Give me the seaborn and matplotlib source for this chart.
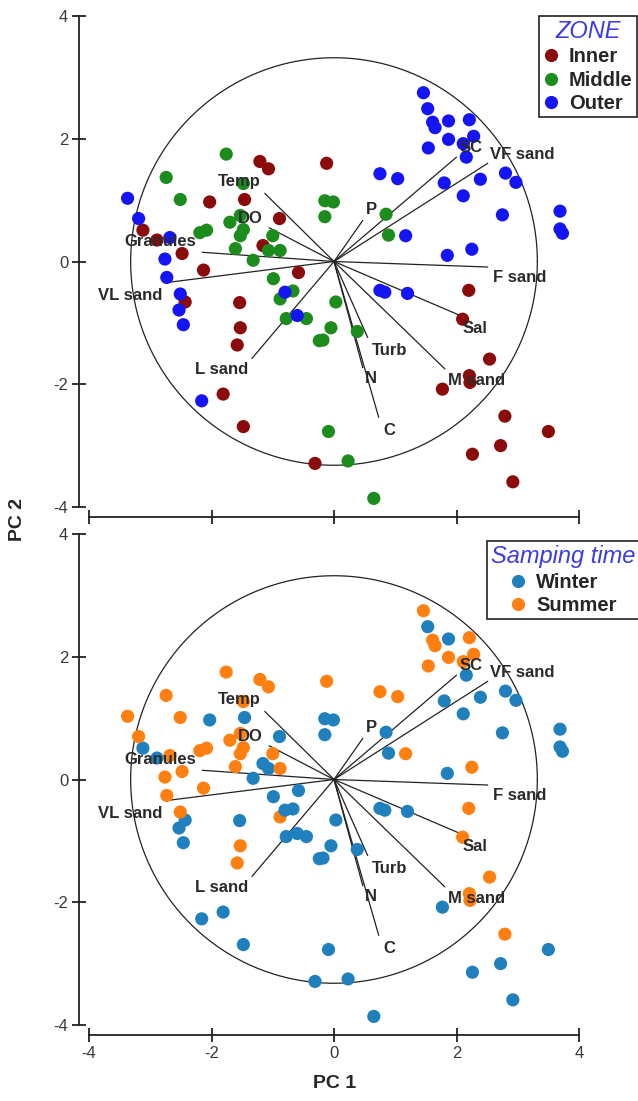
import numpy as np
import pandas as pd
import seaborn as sns
import matplotlib.pyplot as plt

# sample scores on PC1 / PC2, per zone, with sampling season
inner_pc1 = [-3.12, -2.89, -2.48, -1.21, -1.07, -2.03, -1.46, -0.89, -1.16, -2.13,
             -0.58, -0.12, -2.43, -1.54, -1.53, -1.58, -1.81, -1.48, -0.31, 2.20,
             2.10, 2.54, 2.21, 2.22, 1.77, 2.79, 3.50, 2.72, 2.26, 2.92]
inner_pc2 = [0.51, 0.35, 0.13, 1.63, 1.51, 0.97, 1.01, 0.70, 0.26, -0.14,
             -0.18, 1.60, -0.66, -0.67, -1.08, -1.36, -2.16, -2.69, -3.29, -0.47,
             -0.94, -1.59, -1.86, -1.97, -2.08, -2.52, -2.77, -3.00, -3.14, -3.59]
inner_season = ["W", "W", "S", "S", "S", "W", "W", "W", "W", "S",
                "W", "S", "W", "W", "S", "S", "W", "W", "W", "S",
                "S", "S", "S", "S", "W", "S", "W", "W", "W", "W"]

middle_pc1 = [-2.74, -2.51, -1.76, -1.48, -1.70, -1.53, -2.19, -2.08, -1.53, -1.48,
              -1.00, -1.61, -1.07, -0.88, -1.32, -0.99, -0.15, -0.01, -0.15, 0.85,
              0.89, -0.67, -0.88, -0.78, -0.45, -0.24, 0.03, -0.05, -0.18, 0.38,
              -0.09, 0.23, 0.65]
middle_pc2 = [1.37, 1.01, 1.75, 1.27, 0.64, 0.75, 0.47, 0.51, 0.42, 0.52,
              0.42, 0.21, 0.18, 0.18, 0.02, -0.28, 0.99, 0.97, 0.73, 0.77,
              0.43, -0.48, -0.61, -0.93, -0.93, -1.29, -0.66, -1.08, -1.28, -1.14,
              -2.77, -3.25, -3.86]
middle_season = ["S", "S", "S", "S", "S", "S", "S", "S", "S", "S",
                 "S", "S", "W", "S", "W", "W", "W", "W", "W", "W",
                 "W", "W", "S", "W", "W", "W", "W", "W", "W", "W",
                 "W", "W", "W"]

outer_pc1 = [-3.37, -3.19, -2.68, -2.76, -2.73, -2.51, -2.53, -2.46, -0.80, -0.60,
             -2.16, 0.75, 1.04, 1.17, 1.46, 1.53, 1.61, 1.65, 1.87, 2.21,
             2.28, 1.87, 1.54, 2.11, 2.16, 2.39, 2.80, 2.97, 1.80, 2.11,
             2.75, 3.69, 3.69, 3.73, 2.25, 1.85, 0.75, 0.83, 1.20]
outer_pc2 = [1.03, 0.70, 0.39, 0.04, -0.26, -0.53, -0.79, -1.03, -0.50, -0.88,
             -2.27, 1.43, 1.35, 0.42, 2.75, 2.49, 2.27, 2.18, 2.29, 2.31,
             2.04, 1.99, 1.85, 1.92, 1.70, 1.34, 1.44, 1.29, 1.28, 1.07,
             0.76, 0.82, 0.53, 0.46, 0.20, 0.10, -0.47, -0.50, -0.52]
outer_season = ["S", "S", "S", "S", "S", "S", "W", "W", "W", "W",
                "W", "S", "S", "S", "S", "W", "S", "S", "W", "S",
                "S", "S", "S", "S", "W", "W", "W", "W", "W", "W",
                "W", "W", "W", "W", "S", "W", "W", "W", "W"]

# variable loadings (scaled) and where their names sit
var_names = ["Temp", "DO", "Granules", "VL sand", "L sand", "Turb", "N", "C",
             "M sand", "Sal", "F sand", "VF sand", "SC", "P"]
load_pc1 = [-1.13, -1.06, -2.15, -2.71, -1.34, 0.55, 0.47, 0.73,
            1.81, 2.06, 2.51, 2.51, 2.00, 0.47]
load_pc2 = [1.11, 0.55, 0.15, -0.34, -1.58, -1.24, -1.73, -2.54,
            -1.75, -0.88, -0.09, 1.60, 1.70, 0.67]
label_pc1 = [-1.54, -1.37, -2.83, -3.33, -1.84, 0.90, 0.60, 0.90,
             2.32, 2.30, 3.03, 3.08, 2.23, 0.61]
label_pc2 = [1.31, 0.70, 0.33, -0.55, -1.76, -1.45, -1.91, -2.76,
             -1.94, -1.09, -0.26, 1.75, 1.86, 0.85]
circle_radius = 3.32

zone_order = ["Inner", "Middle", "Outer"]
season_order = ["Winter", "Summer"]
season_names = {"W": "Winter", "S": "Summer"}

df = pd.DataFrame({
    "pc1": inner_pc1 + middle_pc1 + outer_pc1,
    "pc2": inner_pc2 + middle_pc2 + outer_pc2,
    "zone": ["Inner"] * len(inner_pc1) + ["Middle"] * len(middle_pc1) + ["Outer"] * len(outer_pc1),
    "season": [season_names[s] for s in inner_season + middle_season + outer_season],
})

sns.set_style("ticks")
plt.rcParams["font.family"] = ["Liberation Sans", "DejaVu Sans"]
plt.rcParams["axes.unicode_minus"] = False

fig = plt.figure(figsize=(6.38, 11.01), dpi=100)
ax1 = fig.add_axes([89 / 638, 1 - 507 / 1101, 490 / 638, 491 / 1101])
ax2 = fig.add_axes([89 / 638, 1 - 1025 / 1101, 490 / 638, 491 / 1101])

zone_palette = {"Inner": "#8b0a0a", "Middle": "#1c8c1c", "Outer": "#1414f5"}
season_palette = {"Winter": "#1f80bd", "Summer": "#ff7f10"}


def draw_biplot(ax, hue, order, palette, title, anchor, show_xlabels):
    theta = np.linspace(0, 2 * np.pi, 400)
    ax.plot(circle_radius * np.cos(theta), circle_radius * np.sin(theta),
            color="#222222", lw=0.9, zorder=1)
    for lx, ly in zip(load_pc1, load_pc2):
        ax.plot([0, lx], [0, ly], color="#222222", lw=0.9, zorder=1)
    sns.scatterplot(data=df, x="pc1", y="pc2", hue=hue, hue_order=order,
                    palette=palette, s=90, linewidth=0, alpha=1, ax=ax, zorder=2)
    for name, tx, ty in zip(var_names, label_pc1, label_pc2):
        ax.text(tx, ty, name, ha="center", va="center", fontsize=12,
                fontweight="bold", color="#2a2a2a", zorder=3)

    ax.set_xlim(-4, 4)
    ax.set_ylim(-4, 4)
    ax.set_xticks([-4, -2, 0, 2, 4])
    ax.set_yticks([-4, -2, 0, 2, 4])
    ax.set_xlabel("")
    ax.set_ylabel("")
    for side in ["top", "right"]:
        ax.spines[side].set_visible(False)
    for side in ["left", "bottom"]:
        ax.spines[side].set_position(("outward", 7))
        ax.spines[side].set_bounds(-4, 4)
        ax.spines[side].set_linewidth(1.3)
        ax.spines[side].set_color("#222222")
    ax.tick_params(direction="inout", length=10, width=1.3, color="#222222",
                   labelsize=12, labelcolor="#3a3a3a", pad=3)
    if not show_xlabels:
        ax.tick_params(axis="x", labelbottom=False)

    handles, labels = ax.get_legend_handles_labels()
    leg = ax.legend(handles, labels, title=title, loc="upper left",
                    bbox_to_anchor=anchor, borderaxespad=0, frameon=True,
                    fancybox=False, framealpha=1, edgecolor="#222222",
                    prop={"weight": "bold", "size": 14.5}, title_fontsize=17,
                    handlelength=0.8, handletextpad=0.5, labelspacing=0.22,
                    borderpad=0.2, markerscale=1.0)
    leg.get_frame().set_linewidth(1.2)
    leg.get_title().set_fontstyle("italic")
    leg.get_title().set_color("#3b3be8")


draw_biplot(ax1, "zone", zone_order, zone_palette, "ZONE", (0.918, 1.0), False)
draw_biplot(ax2, "season", season_order, season_palette, "Samping time", (0.812, 0.985), True)

fig.text(0.028, 0.528, "PC 2", rotation=90, ha="center", va="center",
         fontsize=14, fontweight="bold")
fig.text(335 / 638, 1 - 1083 / 1101, "PC 1", ha="center", va="center",
         fontsize=14, fontweight="bold")

fig.savefig("out.png", dpi=100)
